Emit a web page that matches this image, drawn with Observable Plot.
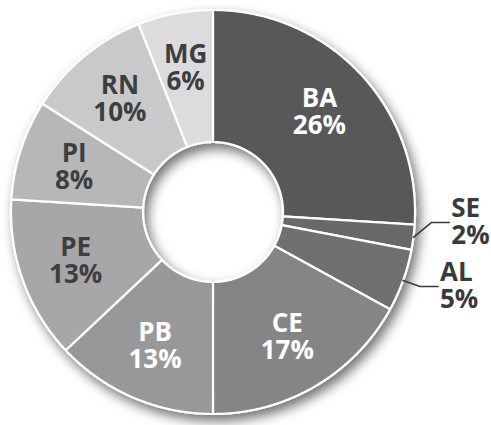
<!DOCTYPE html>
<html><head><meta charset="utf-8">
<script src="https://cdn.jsdelivr.net/npm/d3@7"></script>
<script src="https://cdn.jsdelivr.net/npm/@observablehq/plot@0.6"></script>
<style>body{margin:0;background:#fff}</style>
</head><body><div id="chart"></div>
<script>
// Data
const states = ["BA", "SE", "AL", "CE", "PB", "PE", "PI", "RN", "MG"];
const shares = [26, 2, 5, 17, 13, 13, 8, 10, 6];
const palette = ["#58585a", "#69696b", "#707072", "#858587", "#98989a", "#a7a7a9", "#b7b7b9", "#c9c9cb", "#dcdcde"];

// Layout
const W = 491, H = 425;
const cx = 212.5, cy = 211.5, R = 202, R0 = 70, RL = 146;
const font = "'Open Sans', 'DejaVu Sans', sans-serif";
const FS = 26, HALF = 13.5;

const rows = states.map((s, i) => ({state: s, share: shares[i], color: palette[i]}));
const arcs = d3.pie().sort(null).value(d => d.share).startAngle(0).endAngle(2 * Math.PI)(rows);
const pt = (a, r) => [cx + r * Math.sin(a), cy - r * Math.cos(a)];

// slice polygons
const poly = [];
for (const a of arcs) {
  const n = Math.max(4, Math.ceil((a.endAngle - a.startAngle) / 0.005));
  for (let k = 0; k <= n; k++) {
    const t = a.startAngle + (a.endAngle - a.startAngle) * k / n;
    const [x, y] = pt(t, R);
    poly.push({state: a.data.state, color: a.data.color, x, y});
  }
  for (let k = n; k >= 0; k--) {
    const t = a.startAngle + (a.endAngle - a.startAngle) * k / n;
    const [x, y] = pt(t, R0);
    poly.push({state: a.data.state, color: a.data.color, x, y});
  }
}

// labels
const inside = [], outside = [];
for (const a of arcs) {
  const mid = (a.startAngle + a.endAngle) / 2;
  const name = a.data.state, pct = `${a.data.share}%`;
  if (a.data.share < 6) {
    const [ex, ey] = pt(mid, R);
    const [lx, ly] = pt(mid, 220);
    outside.push({state: name, name, pct, ex, ey, lx, ly});
  } else {
    const [x, y] = pt(mid, RL);
    const light = d3.lab(a.data.color).l > 66;
    inside.push({name, pct, x, y, fill: light ? "#3e3e40" : "#ffffff"});
  }
}
// keep outside labels apart (push upper ones up)
for (let i = outside.length - 2; i >= 0; i--) {
  outside[i].ly = Math.min(outside[i].ly, outside[i + 1].ly - 64);
}
const leaders = [];
for (const o of outside) {
  leaders.push({state: o.state, x: o.ex, y: o.ey});
  leaders.push({state: o.state, x: o.lx, y: o.ly});
  leaders.push({state: o.state, x: o.lx + 18, y: o.ly});
  o.tx = o.lx + 20;
}

const txt = {fontSize: FS, fontWeight: 700, fontFamily: font, lineAnchor: "middle"};
const chart = Plot.plot({
  width: W, height: H, margin: 0,
  x: {domain: [0, W], axis: null},
  y: {domain: [0, H], reverse: true, axis: null},
  color: {type: "identity"},
  marks: [
    Plot.line(poly, {x: "x", y: "y", z: "state", fill: "color", stroke: "#ffffff", strokeWidth: 2.2, curve: "linear-closed"}),
    Plot.line(leaders, {x: "x", y: "y", z: "state", stroke: "#3a3a3c", strokeWidth: 1.6}),
    Plot.text(inside, {x: "x", y: "y", text: "name", fill: "fill", dy: -HALF, textAnchor: "middle", ...txt}),
    Plot.text(inside, {x: "x", y: "y", text: "pct", fill: "fill", dy: HALF, textAnchor: "middle", ...txt}),
    Plot.text(outside, {x: "tx", y: "ly", text: "name", fill: "#3a3a3c", dy: -HALF, textAnchor: "start", ...txt}),
    Plot.text(outside, {x: "tx", y: "ly", text: "pct", fill: "#3a3a3c", dy: HALF, textAnchor: "start", ...txt})
  ]
});

// soft drop shadow under the ring
const svg = d3.select(chart);
const defs = svg.insert("defs", ":first-child");
const f = defs.append("filter").attr("id", "ringShadow").attr("x", "-20%").attr("y", "-20%").attr("width", "140%").attr("height", "140%");
f.append("feDropShadow").attr("dx", 4).attr("dy", 6).attr("stdDeviation", 6).attr("flood-color", "#000").attr("flood-opacity", 0.55);
svg.select('g[aria-label="line"]').attr("filter", "url(#ringShadow)");

document.getElementById("chart").appendChild(chart);
</script>
</body></html>
